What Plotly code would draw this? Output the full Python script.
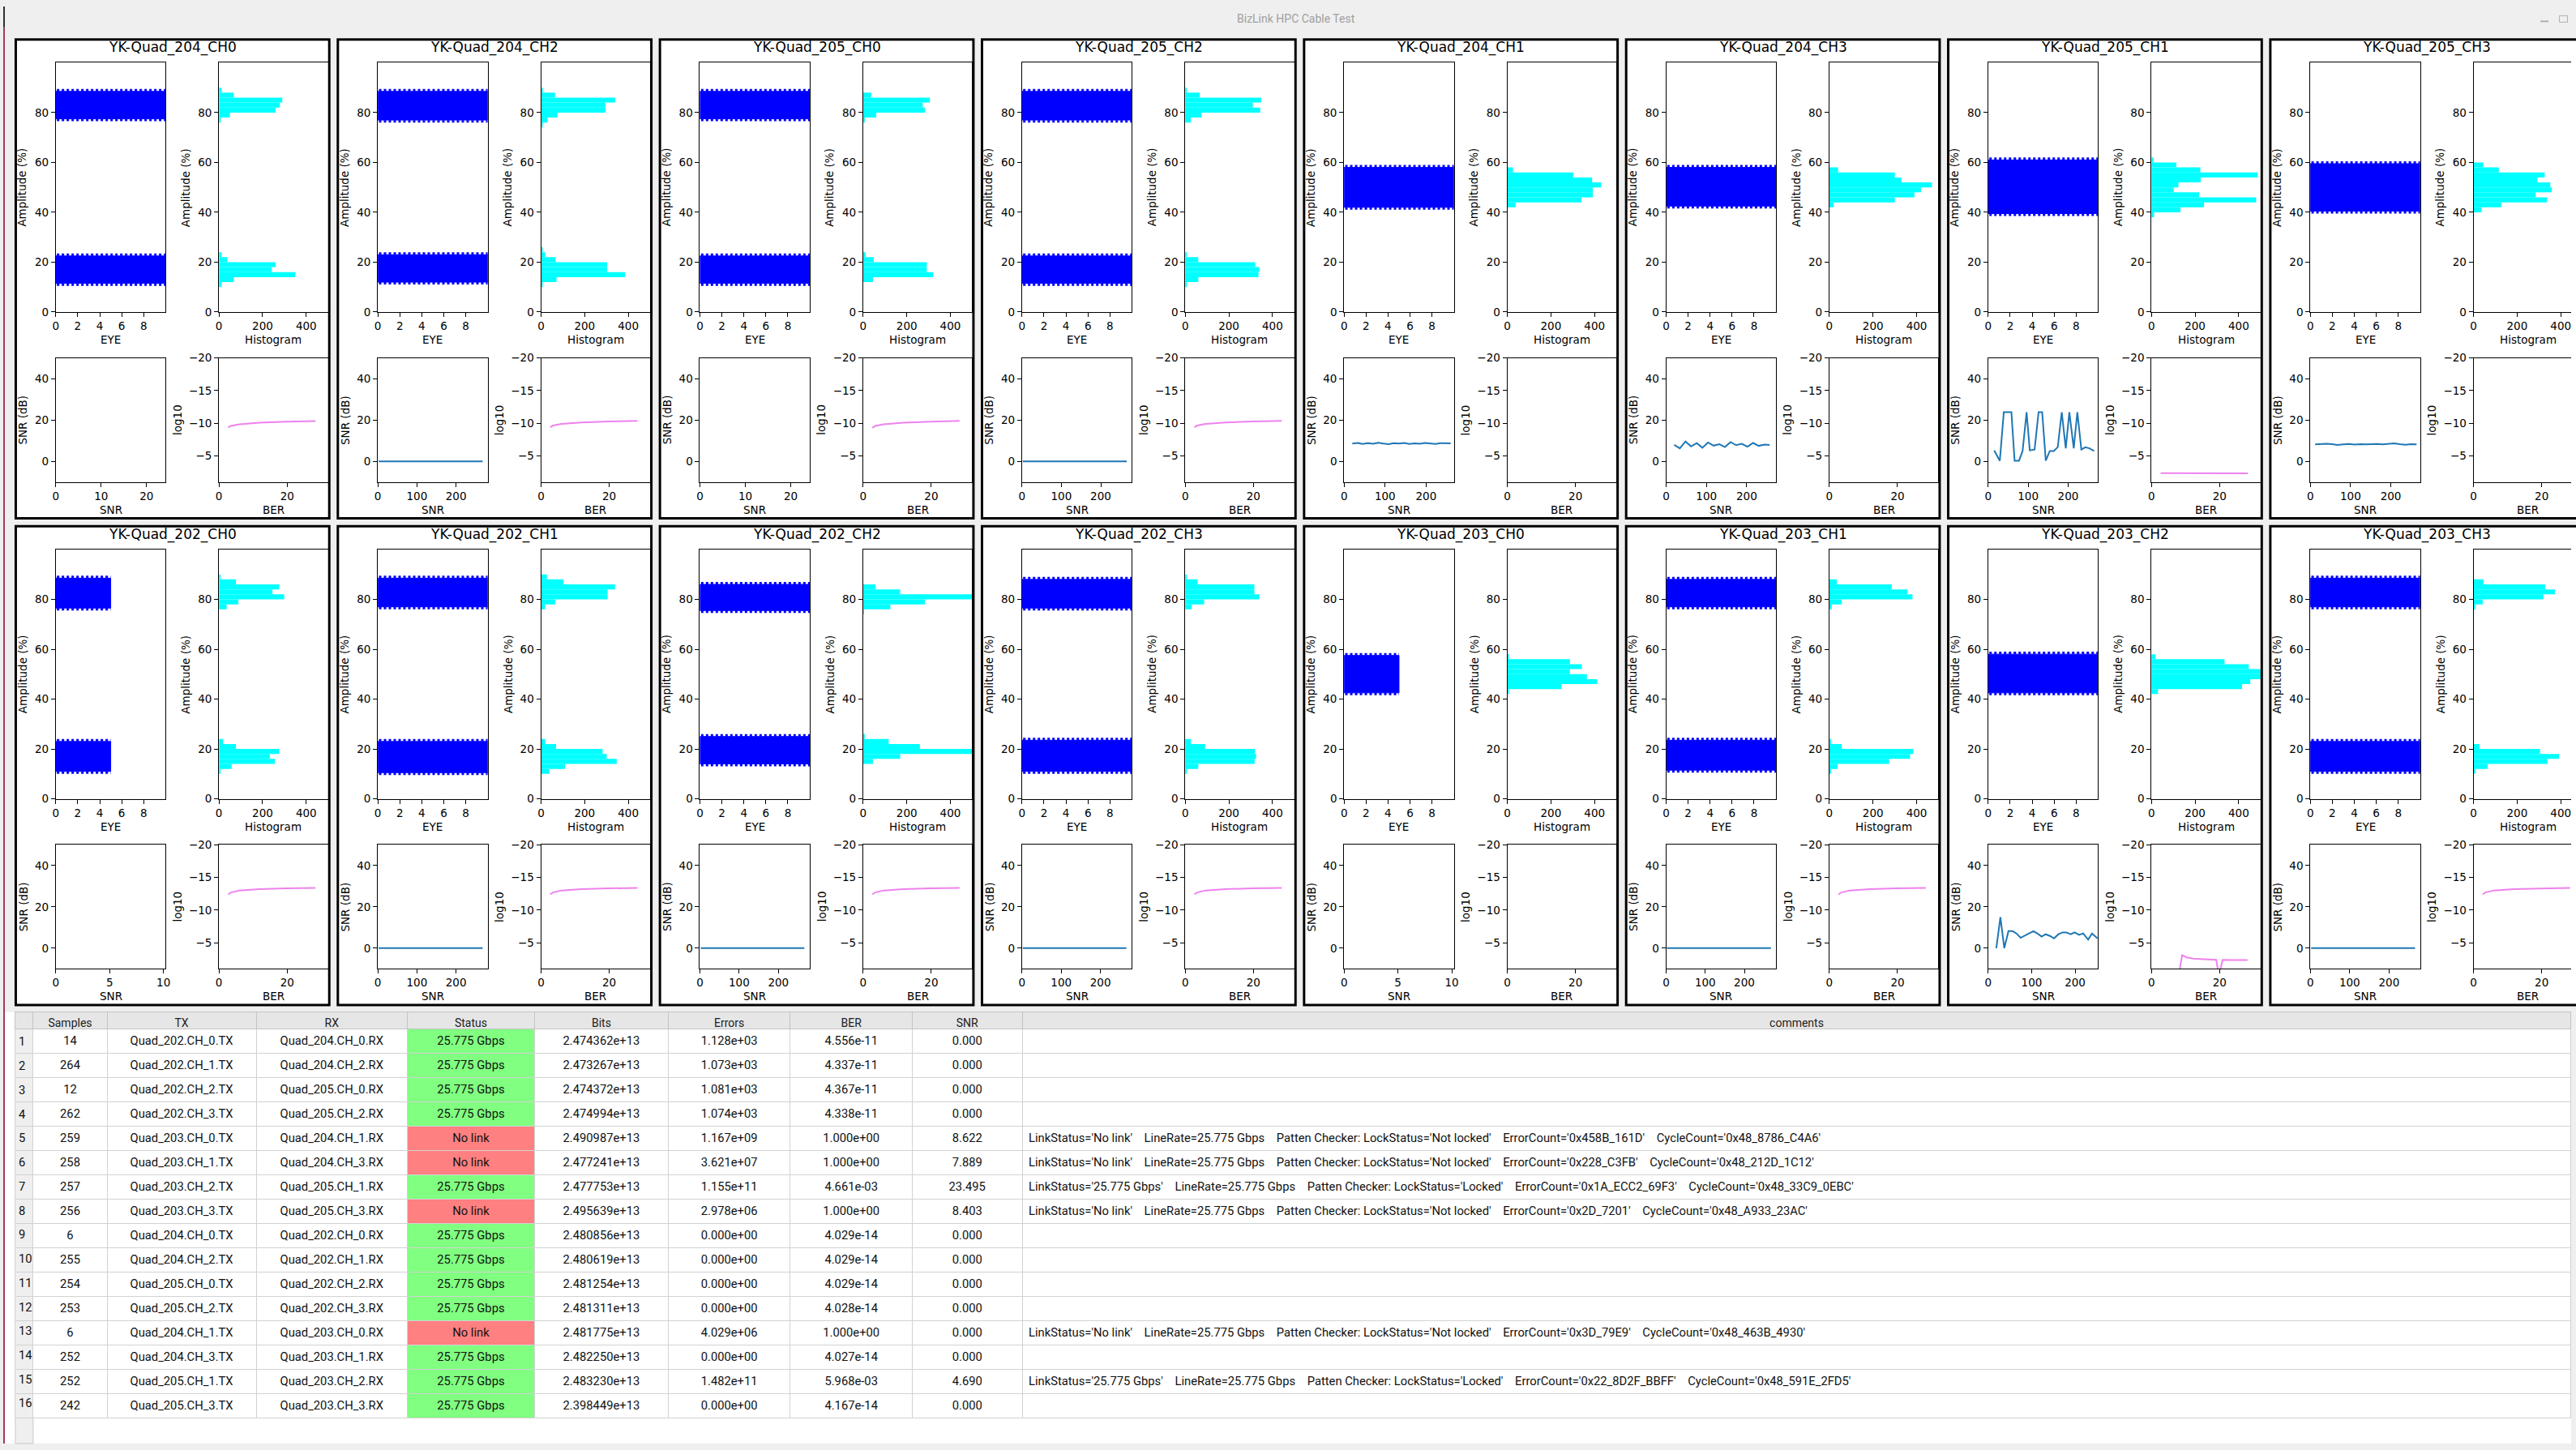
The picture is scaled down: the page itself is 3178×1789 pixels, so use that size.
import plotly.graph_objects as go

W, H = 3178, 1789

# ---------------- data ----------------
PANELS = ["YK-Quad_204_CH0", "YK-Quad_204_CH2", "YK-Quad_205_CH0", "YK-Quad_205_CH2",
          "YK-Quad_204_CH1", "YK-Quad_204_CH3", "YK-Quad_205_CH1", "YK-Quad_205_CH3",
          "YK-Quad_202_CH0", "YK-Quad_202_CH1", "YK-Quad_202_CH2", "YK-Quad_202_CH3",
          "YK-Quad_203_CH0", "YK-Quad_203_CH1", "YK-Quad_203_CH2", "YK-Quad_203_CH3"]

# eye diagram: x extent of the sample cloud and amplitude bands (lo, hi) in %
EYE_XMAX = [10, 10, 10, 10, 10, 10, 10, 10, 5, 10, 10, 10, 5, 10, 10, 10]
EYE_LO = [[77.5, 11.5], [77, 12], [77.5, 11.5], [77, 11.5],
          [42], [42.5], [39.5], [40.5],
          [76.5, 11], [77, 10.5], [75.5, 14], [76.5, 11],
          [42.5], [77, 11.5], [42.5], [77, 11]]
EYE_HI = [[88.5, 22.5], [88.5, 23], [88.5, 22.5], [88.5, 22.5],
          [58], [58], [61], [59.5],
          [88.5, 23], [88.5, 23], [86, 25], [88, 23.5],
          [57.5], [88, 23.5], [58], [88.5, 23]]

# histograms: bins of width 2 (%), start of each cluster and counts bottom->top
HIST_BIN_W = 2
HIST_START = [[76, 10], [74, 10], [76, 12], [76, 10],
              [42], [42], [38], [40],
              [76, 10], [76, 10], [74, 14], [76, 10],
              [42], [76, 10], [42], [76, 10]]
HIST_COUNTS = [
    [[8, 50, 260, 279, 290, 68, 12], [12, 68, 350, 242, 260, 38, 12]],
    [[5, 30, 75, 295, 295, 340, 64, 8], [5, 71, 385, 303, 303, 67, 19, 5]],
    [[5, 60, 284, 273, 306, 37], [45, 321, 292, 292, 49, 11]],
    [[26, 75, 344, 310, 348, 67, 5], [5, 60, 336, 340, 321, 60, 5]],
    [[38, 340, 392, 392, 430, 389, 302, 26]],
    [[20, 300, 390, 420, 470, 330, 300, 40]],
    [[12, 133, 241, 480, 219, 102, 124, 226, 487, 224, 114, 9]],
    [[37, 127, 337, 285, 359, 352, 293, 326, 116, 45]],
    [[35, 89, 299, 245, 276, 78, 5], [5, 58, 256, 233, 276, 78, 19]],
    [[19, 65, 305, 305, 339, 103, 27], [38, 110, 347, 301, 282, 69, 19]],
    [[3, 125, 283, 520, 170, 57], [45, 170, 520, 260, 117, 5]],
    [[30, 87, 340, 317, 317, 57, 4], [5, 60, 318, 325, 320, 91, 26]],
    [[5, 249, 412, 365, 287, 342, 287, 5]],
    [[11, 57, 381, 358, 286, 34], [4, 38, 274, 370, 385, 57, 4]],
    [[30, 415, 453, 503, 503, 446, 335, 19]],
    [[5, 42, 320, 373, 328, 46], [4, 65, 339, 392, 305, 27]],
]

# SNR history per panel
SNR_XMAX = [24.2, 281, 24.2, 279, 268, 273, 275, 273,
            10.2, 281, 280, 280, 10.2, 281, 253, 279]
SNR_X = [
    [], [2, 268], [], [2, 266],
    [20, 33, 45, 58, 71, 83, 96, 109, 121, 134, 147, 159, 172, 185, 197, 210, 223, 235, 248, 260],
    [20, 34, 48, 62, 76, 90, 104, 118, 132, 146, 160, 174, 188, 202, 216, 230, 244, 257],
    [15, 29, 39, 58, 66, 77, 86, 96, 104, 116, 126, 135, 144, 154, 164, 174, 184, 194, 203, 214, 223, 233, 243, 253, 265],
    [12, 26, 40, 54, 68, 82, 96, 110, 124, 138, 152, 166, 180, 194, 208, 222, 236, 250, 264],
    [], [2, 268], [2, 266], [2, 266], [], [2, 268],
    [18.6, 28, 37, 46.6, 56, 65, 74.5, 84.5, 94, 104, 113, 123, 132, 142, 151.5, 161.5, 171, 180, 190, 199, 209, 218.6, 230, 239, 251.5],
    [2, 266],
]
SNR_Y = [
    [], [0, 0], [], [0, 0],
    [8.6, 8.9, 8.4, 8.8, 8.5, 9.0, 8.6, 8.3, 8.8, 8.6, 8.9, 8.4, 8.7, 8.5, 8.9, 8.6, 8.4, 8.8, 8.6, 8.7],
    [8.0, 6.3, 9.6, 7.2, 8.8, 6.6, 9.1, 7.6, 8.3, 6.9, 9.3, 7.8, 8.5, 7.1, 8.9, 7.5, 8.1, 7.9],
    [5.3, 0.3, 23.8, 23.8, 0.3, 0.3, 5.0, 23.8, 5.3, 5.7, 23.8, 23.8, 0.3, 5.0, 5.0, 6.9, 23.8, 6.3, 23.8, 6.3, 23.8, 5.7, 6.8, 6.3, 5.0],
    [8.2, 8.4, 8.5, 8.3, 7.9, 8.2, 8.4, 8.1, 8.3, 8.2, 8.3, 8.4, 8.2, 8.4, 8.7, 8.3, 8.0, 8.3, 8.2],
    [], [0, 0], [0, 0], [0, 0], [], [0, 0],
    [0, 15, 0, 8.2, 8.2, 7.1, 5.0, 6.1, 7.1, 8.2, 7.1, 5.6, 6.7, 5.9, 4.7, 6.7, 7.6, 7.6, 6.7, 7.6, 6.4, 7.1, 4.1, 7.1, 4.7],
    [0, 0],
]

# BER history (log10) per panel
BER_X = [
    [2.7, 3.5, 6, 11.8, 19.8, 28.3], [2.7, 3.5, 6, 11.8, 19.8, 28.3],
    [2.7, 3.5, 6, 11.8, 19.8, 28.3], [2.7, 3.5, 6, 11.8, 19.8, 28.3],
    [2.7, 28.3], [2.7, 28.3], [2.7, 28.3], [2.7, 28.3],
    [2.7, 3.5, 6, 11.8, 19.8, 28.3], [2.7, 3.5, 6, 11.8, 19.8, 28.3],
    [2.7, 3.5, 6, 11.8, 19.8, 28.3], [2.7, 3.5, 6, 11.8, 19.8, 28.3],
    [2.7, 28.3], [2.7, 3.5, 6, 11.8, 19.8, 28.3],
    [8.0, 9.0, 10.3, 12.3, 15.5, 19.0, 19.8, 20.9, 24.0, 28.2],
    [2.7, 3.5, 6, 11.8, 19.8, 28.3],
]
BER_Y = [
    [-9.35, -9.6, -9.85, -10.1, -10.25, -10.34], [-9.4, -9.65, -9.9, -10.12, -10.27, -10.36],
    [-9.3, -9.6, -9.85, -10.1, -10.26, -10.36], [-9.4, -9.65, -9.9, -10.12, -10.27, -10.36],
    [0, 0], [0, 0], [-2.37, -2.33], [0, 0],
    [-12.4, -12.7, -13.0, -13.2, -13.32, -13.39], [-12.4, -12.7, -13.0, -13.2, -13.32, -13.39],
    [-12.4, -12.7, -13.0, -13.2, -13.32, -13.39], [-12.4, -12.7, -13.0, -13.2, -13.32, -13.39],
    [0, 0], [-12.4, -12.7, -13.0, -13.2, -13.32, -13.40],
    [0, -3.08, -2.75, -2.56, -2.46, -2.37, 0, -2.37, -2.35, -2.33],
    [-12.4, -12.7, -13.0, -13.2, -13.31, -13.38],
]

# table
TBL_HEADER = ["", "Samples", "TX", "RX", "Status", "Bits", "Errors", "BER", "SNR", "comments"]
TBL_ROWNUM = ["1", "2", "3", "4", "5", "6", "7", "8", "9", "10", "11", "12", "13", "14", "15", "16"]
TBL_SAMPLES = [14, 264, 12, 262, 259, 258, 257, 256, 6, 255, 254, 253, 6, 252, 252, 242]
TBL_TX = ["Quad_202.CH_0.TX", "Quad_202.CH_1.TX", "Quad_202.CH_2.TX", "Quad_202.CH_3.TX",
          "Quad_203.CH_0.TX", "Quad_203.CH_1.TX", "Quad_203.CH_2.TX", "Quad_203.CH_3.TX",
          "Quad_204.CH_0.TX", "Quad_204.CH_2.TX", "Quad_205.CH_0.TX", "Quad_205.CH_2.TX",
          "Quad_204.CH_1.TX", "Quad_204.CH_3.TX", "Quad_205.CH_1.TX", "Quad_205.CH_3.TX"]
TBL_RX = ["Quad_204.CH_0.RX", "Quad_204.CH_2.RX", "Quad_205.CH_0.RX", "Quad_205.CH_2.RX",
          "Quad_204.CH_1.RX", "Quad_204.CH_3.RX", "Quad_205.CH_1.RX", "Quad_205.CH_3.RX",
          "Quad_202.CH_0.RX", "Quad_202.CH_1.RX", "Quad_202.CH_2.RX", "Quad_202.CH_3.RX",
          "Quad_203.CH_0.RX", "Quad_203.CH_1.RX", "Quad_203.CH_2.RX", "Quad_203.CH_3.RX"]
TBL_STATUS = ["25.775 Gbps", "25.775 Gbps", "25.775 Gbps", "25.775 Gbps",
              "No link", "No link", "25.775 Gbps", "No link",
              "25.775 Gbps", "25.775 Gbps", "25.775 Gbps", "25.775 Gbps",
              "No link", "25.775 Gbps", "25.775 Gbps", "25.775 Gbps"]
TBL_BITS = ["2.474362e+13", "2.473267e+13", "2.474372e+13", "2.474994e+13",
            "2.490987e+13", "2.477241e+13", "2.477753e+13", "2.495639e+13",
            "2.480856e+13", "2.480619e+13", "2.481254e+13", "2.481311e+13",
            "2.481775e+13", "2.482250e+13", "2.483230e+13", "2.398449e+13"]
TBL_ERRORS = ["1.128e+03", "1.073e+03", "1.081e+03", "1.074e+03",
              "1.167e+09", "3.621e+07", "1.155e+11", "2.978e+06",
              "0.000e+00", "0.000e+00", "0.000e+00", "0.000e+00",
              "4.029e+06", "0.000e+00", "1.482e+11", "0.000e+00"]
TBL_BER = ["4.556e-11", "4.337e-11", "4.367e-11", "4.338e-11",
           "1.000e+00", "1.000e+00", "4.661e-03", "1.000e+00",
           "4.029e-14", "4.029e-14", "4.029e-14", "4.028e-14",
           "1.000e+00", "4.027e-14", "5.968e-03", "4.167e-14"]
TBL_SNR = ["0.000", "0.000", "0.000", "0.000", "8.622", "7.889", "23.495", "8.403",
           "0.000", "0.000", "0.000", "0.000", "0.000", "0.000", "4.690", "0.000"]
TBL_COMMENTS = [
    "", "", "", "",
    "LinkStatus='No link'    LineRate=25.775 Gbps    Patten Checker: LockStatus='Not locked'    ErrorCount='0x458B_161D'    CycleCount='0x48_8786_C4A6'",
    "LinkStatus='No link'    LineRate=25.775 Gbps    Patten Checker: LockStatus='Not locked'    ErrorCount='0x228_C3FB'    CycleCount='0x48_212D_1C12'",
    "LinkStatus='25.775 Gbps'    LineRate=25.775 Gbps    Patten Checker: LockStatus='Locked'    ErrorCount='0x1A_ECC2_69F3'    CycleCount='0x48_33C9_0EBC'",
    "LinkStatus='No link'    LineRate=25.775 Gbps    Patten Checker: LockStatus='Not locked'    ErrorCount='0x2D_7201'    CycleCount='0x48_A933_23AC'",
    "", "", "", "",
    "LinkStatus='No link'    LineRate=25.775 Gbps    Patten Checker: LockStatus='Not locked'    ErrorCount='0x3D_79E9'    CycleCount='0x48_463B_4930'",
    "",
    "LinkStatus='25.775 Gbps'    LineRate=25.775 Gbps    Patten Checker: LockStatus='Locked'    ErrorCount='0x22_8D2F_BBFF'    CycleCount='0x48_591E_2FD5'",
    "",
]

# ---------------- layout constants ----------------
PANEL_LEFT0 = 14.0
PANEL_PITCH = 398.6
PANEL_W = 391.0
PANEL_H = 599.0
ROW_TOP = [39.6, 645.6]
SUBS = [(51, 187, 30.4, 340.8), (253, 388, 30.4, 340.8),
        (51, 187, 398, 552.4), (253, 388, 398, 552.4)]
EYE_FRINGE = 0.5  # amplitude units: ragged sparse-dot edge of each dense eye band

FONT = "DejaVu Sans"
TICKFONT = dict(family=FONT, size=13.5, color="black")
LABFONT = dict(family=FONT, size=13.5, color="black")
TBLFONT = "Roboto"


def fx(px):
    return px / W


def fy(py):
    return 1 - py / H


def axis_style(**kw):
    d = dict(showline=True, linecolor="black", linewidth=1, mirror=True,
             ticks="outside", ticklen=5, tickwidth=1, tickcolor="black",
             showgrid=False, zeroline=False, tickfont=TICKFONT, fixedrange=True,
             tickmode="array", autorange=False)
    d.update(kw)
    return d


fig = go.Figure()
layout = dict(width=W, height=H, margin=dict(l=0, r=0, t=0, b=0),
              paper_bgcolor="#efefef", plot_bgcolor="white",
              showlegend=False, barmode="overlay")
shapes = []
annotations = []


def ann(x, y, text, font, angle=0, xanchor="center", yanchor="middle"):
    annotations.append(dict(xref="paper", yref="paper", x=fx(x), y=fy(y), text=text,
                            showarrow=False, font=font, textangle=angle,
                            xanchor=xanchor, yanchor=yanchor))


k = 0
for p, name in enumerate(PANELS):
    c, r = p % 8, p // 8
    L = PANEL_LEFT0 + c * PANEL_PITCH
    T = ROW_TOP[r]
    shapes.append(dict(type="rect", xref="paper", yref="paper",
                       x0=fx(L), x1=fx(L + PANEL_W), y0=fy(T + PANEL_H), y1=fy(T),
                       fillcolor="white", line=dict(width=0), layer="below"))
    shapes.append(dict(type="rect", xref="paper", yref="paper",
                       x0=fx(L + 1.5), x1=fx(L + PANEL_W - 1.5), y0=fy(T + PANEL_H - 1.5), y1=fy(T + 1.5),
                       fillcolor="rgba(0,0,0,0)", line=dict(width=3, color="black"), layer="above"))
    ann(L + 195.5, T + 11.8, name, dict(family=FONT, size=17, color="black"))

    for s, (x0, x1, y0, y1) in enumerate(SUBS):
        k += 1
        a0, a1 = L + x0, L + x1
        frac = 1.0
        if a1 > W:
            frac = (W - a0) / (a1 - a0)
            a1 = W
        xn = "xaxis" if k == 1 else f"xaxis{k}"
        yn = "yaxis" if k == 1 else f"yaxis{k}"
        xr = "x" if k == 1 else f"x{k}"
        yr = "y" if k == 1 else f"y{k}"
        xdom = [fx(a0), fx(a1)]
        ydom = [fy(T + y1), fy(T + y0)]
        ymirror = frac == 1.0
        if s == 0:
            layout[xn] = axis_style(domain=xdom, anchor=yr, range=[0, 10], tickvals=[0, 2, 4, 6, 8])
            layout[yn] = axis_style(domain=ydom, anchor=xr, range=[0, 100], tickvals=[0, 20, 40, 60, 80], mirror=ymirror)
            xm = EYE_XMAX[p]
            for lo, hi in zip(EYE_LO[p], EYE_HI[p]):
                fig.add_trace(go.Scatter(x=[0, xm, xm, 0, 0], y=[lo, lo, hi, hi, lo], mode="lines",
                                         fill="toself", fillcolor="#0000ff", line=dict(width=1, color="#0000ff"),
                                         hoverinfo="skip", xaxis=xr, yaxis=yr))
                fig.add_trace(go.Scatter(x=[0.1, xm, None, 0.1, xm],
                                         y=[lo - EYE_FRINGE, lo - EYE_FRINGE, None, hi + EYE_FRINGE, hi + EYE_FRINGE],
                                         mode="lines", line=dict(width=3, color="#0000ff", dash="dot"),
                                         hoverinfo="skip", xaxis=xr, yaxis=yr))
            ann(L + 119, T + 375.4, "EYE", LABFONT)
            ann(L + 9.5, T + 185.6, "Amplitude (%)", LABFONT, angle=-90)
        elif s == 1:
            layout[xn] = axis_style(domain=xdom, anchor=yr, range=[0, 500 * frac], tickvals=[0, 200, 400])
            layout[yn] = axis_style(domain=ydom, anchor=xr, range=[0, 100], tickvals=[0, 20, 40, 60, 80], mirror=ymirror)
            ys, xs = [], []
            for st, cnts in zip(HIST_START[p], HIST_COUNTS[p]):
                for i, cnt in enumerate(cnts):
                    ys.append(st + HIST_BIN_W * i + HIST_BIN_W / 2)
                    xs.append(cnt)
            fig.add_trace(go.Bar(x=xs, y=ys, orientation="h", width=HIST_BIN_W,
                                 marker=dict(color="#00ffff", line=dict(width=0)),
                                 hoverinfo="skip", xaxis=xr, yaxis=yr))
            ann(L + 320.5, T + 375.4, "Histogram", LABFONT)
            ann(L + 211.7, T + 185.6, "Amplitude (%)", LABFONT, angle=-90)
        elif s == 2:
            xmax = SNR_XMAX[p]
            if xmax < 15:
                tv = [0, 5, 10]
            elif xmax < 50:
                tv = [0, 10, 20]
            else:
                tv = [0, 100, 200]
            layout[xn] = axis_style(domain=xdom, anchor=yr, range=[0, xmax], tickvals=tv)
            layout[yn] = axis_style(domain=ydom, anchor=xr, range=[-10, 50], tickvals=[0, 20, 40])
            fig.add_trace(go.Scatter(x=SNR_X[p], y=SNR_Y[p], mode="lines",
                                     line=dict(color="#1f77b4", width=2),
                                     hoverinfo="skip", xaxis=xr, yaxis=yr))
            ann(L + 119, T + 586.9, "SNR", LABFONT)
            ann(L + 10.5, T + 475.2, "SNR (dB)", LABFONT, angle=-90)
        else:
            layout[xn] = axis_style(domain=xdom, anchor=yr, range=[0, 32 * frac], tickvals=[0, 20])
            layout[yn] = axis_style(domain=ydom, anchor=xr, range=[-1, -20],
                                    tickvals=[-20, -15, -10, -5], mirror=ymirror)
            fig.add_trace(go.Scatter(x=BER_X[p], y=BER_Y[p], mode="lines",
                                     line=dict(color="#ee82ee", width=2),
                                     hoverinfo="skip", xaxis=xr, yaxis=yr))
            ann(L + 320.5, T + 586.9, "BER", LABFONT)
            ann(L + 201.5, T + 475.2, "log10", LABFONT, angle=-90)

# ---------------- window chrome ----------------
ann(1600, 15, "BizLink HPC Cable Test", dict(family="Roboto", size=14, color="#a0a0a0"))
shapes.append(dict(type="line", xref="paper", yref="paper", x0=fx(3140), x1=fx(3150), y0=fy(18.5), y1=fy(18.5),
                   line=dict(color="#b0b0b0", width=2)))
shapes.append(dict(type="rect", xref="paper", yref="paper", x0=fx(3163.5), x1=fx(3173.5), y0=fy(19.5), y1=fy(11.5),
                   line=dict(color="#b0b0b0", width=1)))
shapes.append(dict(type="rect", xref="paper", yref="paper", x0=0, x1=fx(2), y0=0, y1=fy(26),
                   fillcolor="#a43a55", line=dict(width=0), layer="above"))
shapes.append(dict(type="rect", xref="paper", yref="paper", x0=0, x1=fx(2), y0=fy(26), y1=1,
                   fillcolor="#303030", line=dict(width=0), layer="above"))

# ---------------- table ----------------
TABLE_TOP = 1252.0
HEADER_H = 21
ROW_H = 30
shapes.append(dict(type="rect", xref="paper", yref="paper", x0=fx(2), x1=1, y0=0, y1=fy(TABLE_TOP),
                   fillcolor="white", line=dict(width=0), layer="below"))
shapes.append(dict(type="rect", xref="paper", yref="paper", x0=fx(15), x1=fx(37), y0=0, y1=fy(TABLE_TOP),
                   fillcolor="#efefef", line=dict(color="#c8c8c8", width=1), layer="below"))

n = len(TBL_SAMPLES)
status_fill = ["#80ff80" if s != "No link" else "#ff8080" for s in TBL_STATUS]
col_w = [22, 91.5, 184.5, 187, 157.5, 165.5, 151, 151, 136, 1917]
fig.add_trace(go.Table(
    domain=dict(x=[fx(15), 1], y=[0, fy(TABLE_TOP)]),
    columnwidth=col_w,
    header=dict(values=TBL_HEADER, height=HEADER_H, fill_color="#e6e6e6",
                line=dict(color="#c4c4c4", width=1),
                font=dict(family=TBLFONT, size=14, color="#222222"), align="center"),
    cells=dict(values=[[""] * n, TBL_SAMPLES, TBL_TX, TBL_RX, TBL_STATUS,
                       TBL_BITS, TBL_ERRORS, TBL_BER, TBL_SNR, TBL_COMMENTS],
               height=ROW_H,
               fill_color=[["#efefef"] * n, ["white"] * n, ["white"] * n, ["white"] * n, status_fill,
                           ["white"] * n, ["white"] * n, ["white"] * n, ["white"] * n, ["white"] * n],
               line=dict(color="#d2d2d2", width=1),
               font=dict(family=TBLFONT, size=14.75, color="#111111"),
               align=["left", "center", "center", "center", "center", "center", "center", "center", "center", "left"]),
))
# row numbers (drawn as text so two-digit numbers fit the narrow index column)
for i, lab in enumerate(TBL_ROWNUM):
    ann(17.5, TABLE_TOP + HEADER_H + ROW_H * i + ROW_H / 2 + 1, lab,
        dict(family=TBLFONT, size=14.75, color="#111111"), xanchor="left")

layout["shapes"] = shapes
layout["annotations"] = annotations
fig.update_layout(**layout)
fig.write_html("out.html")
